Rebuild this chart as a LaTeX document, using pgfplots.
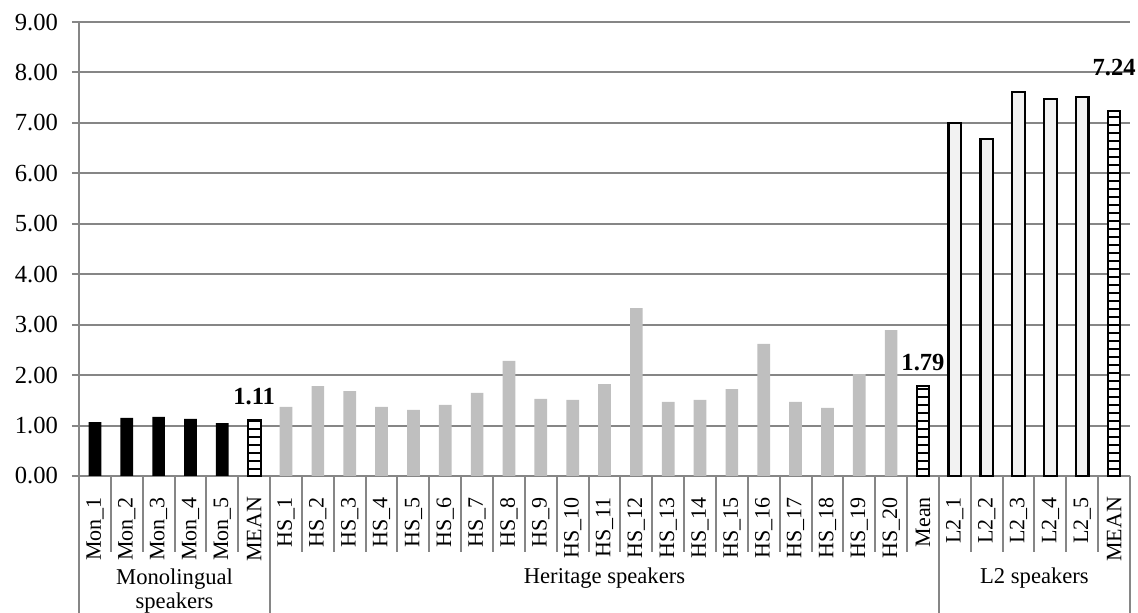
\documentclass[border=0pt]{standalone}
\usepackage{pgfplots}
\pgfplotsset{compat=1.18}
\usepackage{fontspec}
\setmainfont{Liberation Serif}
\usetikzlibrary{patterns.meta}
\definecolor{gridc}{RGB}{134,134,134}
\definecolor{hsgray}{RGB}{191,191,191}
\definecolor{ltgray}{RGB}{242,242,242}
\begin{document}
\begin{tikzpicture}
\begin{axis}[name=ax, scale only axis, width=525.5bp, height=227bp,
  xmin=0, xmax=33, ymin=0, ymax=9, enlargelimits=false, clip=false,
  axis x line*=bottom, axis y line*=left,
  axis line style={gridc, line width=1bp, -},
  ymajorgrids, grid style={gridc, line width=1bp},
  ytick={0,...,9}, ytick style={gridc, line width=1bp},
  tick align=outside, major tick length=3.5bp,
  xtick={0.5,1.5,...,32.5}, xtick style={draw=none},
  xticklabels={Mon\_1,Mon\_2,Mon\_3,Mon\_4,Mon\_5,MEAN,HS\_1,HS\_2,HS\_3,HS\_4,HS\_5,HS\_6,HS\_7,HS\_8,HS\_9,HS\_10,HS\_11,HS\_12,HS\_13,HS\_14,HS\_15,HS\_16,HS\_17,HS\_18,HS\_19,HS\_20,Mean,L2\_1,L2\_2,L2\_3,L2\_4,L2\_5,MEAN},
  xticklabel style={rotate=90, anchor=east, font=\fontsize{11bp}{12bp}\selectfont},
  xticklabel shift=3.5bp,
  yticklabel style={font=\fontsize{12.3bp}{14bp}\selectfont, xshift=-3.5bp},
  /pgf/number format/.cd, fixed, fixed zerofill, precision=2, assume math mode=true,
]
% Monolingual
\addplot[ybar, bar width=6.35bp, bar shift=0pt, fill=black, draw=none]
  coordinates {(0.5,1.07) (1.5,1.15) (2.5,1.17) (3.5,1.13) (4.5,1.05)};
% Heritage
\addplot[ybar, bar width=6.35bp, bar shift=0pt, fill=hsgray, draw=none]
  coordinates {(6.5,1.37) (7.5,1.78) (8.5,1.68) (9.5,1.37) (10.5,1.31) (11.5,1.41) (12.5,1.65) (13.5,2.28) (14.5,1.53) (15.5,1.51) (16.5,1.82) (17.5,3.33) (18.5,1.47) (19.5,1.51) (20.5,1.72) (21.5,2.62) (22.5,1.47) (23.5,1.35) (24.5,2.02) (25.5,2.89)};
% L2
\addplot[ybar, bar width=6.35bp, bar shift=0pt, fill=ltgray, draw=black, line width=1.2bp]
  coordinates {(27.5,7.00) (28.5,6.68) (29.5,7.61) (30.5,7.47) (31.5,7.51)};
% Means
\addplot[ybar, bar width=6.35bp, bar shift=0pt, fill=white, draw=black, line width=1bp,
  postaction={pattern={Lines[angle=0,distance=4bp,line width=1.3bp]}, pattern color=black}]
  coordinates {(5.5,1.11) (26.5,1.79) (32.5,7.24)};
% separators
\pgfplotsinvokeforeach{0,...,33}{\draw[gridc, line width=1bp] (axis cs:#1,0) -- ++(0,-38bp);}
\pgfplotsinvokeforeach{0,6,27,33}{\draw[gridc, line width=1bp] (axis cs:#1,0) -- ++(0,-68.5bp);}
% group labels
\node[font=\fontsize{11.3bp}{12bp}\selectfont, align=center, inner sep=0pt] at ([yshift=-57.5bp]axis cs:3,0) {Monolingual\\speakers};
\node[font=\fontsize{11.3bp}{12bp}\selectfont, inner sep=0pt] at ([yshift=-51bp]axis cs:16.5,0) {Heritage speakers};
\node[font=\fontsize{11.3bp}{12bp}\selectfont, inner sep=0pt] at ([yshift=-51bp]axis cs:30,0) {L2 speakers};
% value labels
\node[font=\bfseries\fontsize{12.3bp}{14bp}\selectfont, inner sep=0pt] at ([yshift=11.5bp]axis cs:5.5,1.11) {1.11};
\node[font=\bfseries\fontsize{12.3bp}{14bp}\selectfont, inner sep=0pt] at ([yshift=11.4bp]axis cs:26.5,1.79) {1.79};
\node[font=\bfseries\fontsize{12.3bp}{14bp}\selectfont, inner sep=0pt] at ([yshift=21.4bp]axis cs:32.5,7.24) {7.24};
\end{axis}
\pgfresetboundingbox
\path[use as bounding box] ([xshift=-39.5bp,yshift=-68.5bp]ax.south west) rectangle ([xshift=4bp,yshift=11bp]ax.north east);
\end{tikzpicture}
\end{document}
